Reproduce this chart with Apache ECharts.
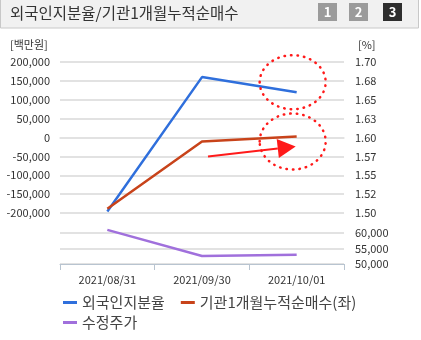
<!DOCTYPE html>
<html><head><meta charset="utf-8">
<script src="https://cdn.jsdelivr.net/npm/echarts@6/dist/echarts.min.js"></script>
<style>html,body{margin:0;padding:0;background:#fff}#c{width:421px;height:340px}</style>
</head><body><div id="c"></div>
<script>
const categories = ['2021/08/31', '2021/09/30', '2021/10/01'];
const foreignRatio = [1.502, 1.680, 1.660];       // 외국인지분율 (%)
const instNetBuy = [-189000, -10600, 2600];       // 기관1개월누적순매수 (백만원)
const adjPrice = [61000, 52600, 53000];           // 수정주가
const pctTickLabels = ['1.50', '1.52', '1.55', '1.57', '1.60', '1.63', '1.65', '1.68', '1.70'];
const seriesNames = ['외국인지분율', '기관1개월누적순매수(좌)', '수정주가'];

const FONT = '"Noto Sans CJK KR", "Noto Sans", sans-serif';
const fmt = v => Number(v).toLocaleString('en-US');
const chart = echarts.init(document.getElementById('c'), null, {renderer: 'canvas'});

const gridLine = {show: true, lineStyle: {color: '#e2e2e2', width: 2}};
const axLabel = {color: '#333', fontSize: 11, fontFamily: FONT};

function button(x, label, fill) {
  return {type: 'group', x: x, y: 3, children: [
    {type: 'rect', shape: {x: 0, y: 0, width: 19, height: 18}, style: {fill: fill}},
    {type: 'text', x: 9.5, y: 9, style: {text: label, fill: '#fff', font: 'bold 13px ' + FONT, align: 'center', verticalAlign: 'middle'}}
  ]};
}

const option = {
  animation: false,
  grid: [
    {left: 60, right: 77, top: 62, height: 151},
    {left: 60, right: 77, top: 233, height: 31}
  ],
  xAxis: [
    {type: 'category', gridIndex: 0, data: categories, offset: 2,
     axisLine: {show: true, lineStyle: {color: '#e2e2e2', width: 1.5}}, axisTick: {show: false}, axisLabel: {show: false}},
    {type: 'category', gridIndex: 1, data: categories,
     axisLine: {show: true, lineStyle: {color: '#b8c4d0', width: 1}},
     axisTick: {show: true, length: 6, lineStyle: {color: '#b8c4d0'}},
     axisLabel: Object.assign({}, axLabel, {margin: 10})}
  ],
  yAxis: [
    {type: 'value', gridIndex: 0, position: 'left', min: -200000, max: 200000, interval: 50000,
     axisLine: {show: false}, axisTick: {show: false}, splitLine: gridLine,
     axisLabel: Object.assign({}, axLabel, {formatter: fmt, margin: 10})},
    {type: 'value', gridIndex: 0, position: 'right', min: 1.5, max: 1.7, interval: 0.025,
     axisLine: {show: false}, axisTick: {show: false}, splitLine: {show: false},
     axisLabel: Object.assign({}, axLabel, {margin: 11,
       formatter: v => pctTickLabels[Math.round((v - 1.5) / 0.025)]})},
    {type: 'value', gridIndex: 1, position: 'right', min: 50000, max: 60000, interval: 5000,
     axisLine: {show: false}, axisTick: {show: false}, splitLine: gridLine,
     axisLabel: Object.assign({}, axLabel, {formatter: fmt, margin: 11})}
  ],
  legend: [
    {data: seriesNames.slice(0, 2), left: 58, top: 290, itemWidth: 14, itemHeight: 3, itemGap: 16, icon: 'rect',
     textStyle: {color: '#444', fontSize: 15, fontFamily: FONT}},
    {data: seriesNames.slice(2), left: 58, top: 310, itemWidth: 14, itemHeight: 3, icon: 'rect',
     textStyle: {color: '#444', fontSize: 15, fontFamily: FONT}}
  ],
  series: [
    {name: seriesNames[0], type: 'line', xAxisIndex: 0, yAxisIndex: 1, data: foreignRatio,
     showSymbol: false, symbol: 'none', lineStyle: {color: '#2f6fdc', width: 2.5}, itemStyle: {color: '#2f6fdc'}, z: 3},
    {name: seriesNames[1], type: 'line', xAxisIndex: 0, yAxisIndex: 0, data: instNetBuy,
     showSymbol: false, symbol: 'none', lineStyle: {color: '#c8431a', width: 2.5}, itemStyle: {color: '#c8431a'}, z: 4},
    {name: seriesNames[2], type: 'line', xAxisIndex: 1, yAxisIndex: 2, data: adjPrice, clip: false,
     showSymbol: false, symbol: 'none', lineStyle: {color: '#a070dc', width: 2.5}, itemStyle: {color: '#a070dc'}}
  ],
  graphic: [
    {type: 'rect', shape: {x: 0.5, y: -1, width: 418, height: 29}, style: {fill: '#f1f1f1', stroke: '#c8c8c8', lineWidth: 1}, z: 0},
    {type: 'text', x: 10, y: 13, style: {text: '외국인지분율/기관1개월누적순매수', fill: '#333', font: '15.5px ' + FONT, verticalAlign: 'middle'}},
    button(318, '1', '#9b9b9b'),
    button(349, '2', '#9b9b9b'),
    button(383, '3', '#2e2e2e'),
    {type: 'text', x: 10, y: 45, style: {text: '[백만원]', fill: '#333', font: '11px ' + FONT, verticalAlign: 'middle'}},
    {type: 'text', x: 358, y: 45, style: {text: '[%]', fill: '#333', font: '11px ' + FONT, verticalAlign: 'middle'}}
  ]
};
chart.setOption(option);

// Annotations (red dotted circles and arrow) anchored to the last data points
const pBlueLast = chart.convertToPixel({seriesIndex: 0}, [2, foreignRatio[2]]);
const pRedMid = chart.convertToPixel({seriesIndex: 1}, [1, instNetBuy[1]]);
const pRedLast = chart.convertToPixel({seriesIndex: 1}, [2, instNetBuy[2]]);
const dotted = {fill: 'none', stroke: '#ff1a1a', lineWidth: 2.5, lineDash: [0.5, 6], lineCap: 'round'};
const start = [pRedMid[0] + 6, pRedMid[1] + 15];
const tip = [pRedLast[0] - 1, pRedLast[1] + 10];
const dx = tip[0] - start[0], dy = tip[1] - start[1], L = Math.hypot(dx, dy);
const ux = dx / L, uy = dy / L, hl = 18, hw = 9.5;
const base = [tip[0] - ux * hl, tip[1] - uy * hl];
chart.setOption({graphic: option.graphic.concat([
  {type: 'ellipse', shape: {cx: pBlueLast[0] - 4, cy: pBlueLast[1] - 10, rx: 33, ry: 27}, style: dotted, z: 10},
  {type: 'ellipse', shape: {cx: pRedLast[0] - 4, cy: pRedLast[1] + 5, rx: 33, ry: 28}, style: dotted, z: 10},
  {type: 'line', shape: {x1: start[0], y1: start[1], x2: base[0], y2: base[1]}, style: {stroke: '#ff1a1a', lineWidth: 2}, z: 10},
  {type: 'polygon', shape: {points: [tip, [base[0] - uy * hw, base[1] + ux * hw], [base[0] + uy * hw, base[1] - ux * hw]]}, style: {fill: '#ff1a1a'}, z: 10}
])});
</script></body></html>
